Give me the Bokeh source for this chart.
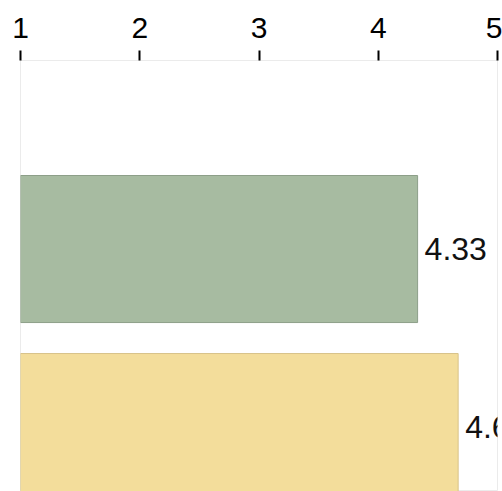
from bokeh.plotting import figure
from bokeh.models import ColumnDataSource, Range1d, LabelSet, FixedTicker
from bokeh.core.properties import value
from bokeh.embed import file_html
from bokeh.resources import INLINE

categories = ["Item 1", "Item 2"]
values = [4.33, 4.67]
bar_colors = ["#a7bba1", "#f3dd9b"]
bar_edges = ["#8d9f89", "#d8c38a"]
x_ticks = [1, 2, 3, 4, 5]

pos = list(range(len(categories)))
src = ColumnDataSource(dict(
    y=pos,
    value=values,
    label=["%.2f" % v for v in values],
    fill=bar_colors,
    edge=bar_edges,
))

p = figure(width=502, height=491, output_backend="svg", toolbar_location=None,
           x_range=Range1d(1, 5), y_range=Range1d(1.362, -1.059),
           x_axis_location="above", y_axis_location=None,
           min_border_left=20, min_border_right=5, min_border_top=60,
           min_border_bottom=0)

p.hbar(y="y", left=1, right="value", height=0.826, fill_color="fill",
       line_color="edge", line_width=1, source=src)

labels = LabelSet(x="value", y="y", text="label", source=src, x_offset=7,
                  text_baseline="middle", text_align="left",
                  text_font=value("Liberation Sans"), text_font_size="32px",
                  text_color="#111111")
p.add_layout(labels)

ax = p.xaxis[0]
ax.ticker = FixedTicker(ticks=x_ticks)
ax.axis_line_color = None
ax.major_tick_in = 0
ax.major_tick_out = 10
ax.major_tick_line_width = 2
ax.major_tick_line_color = "#000000"
ax.minor_tick_line_color = None
ax.major_label_standoff = 13
ax.major_label_text_font = "Liberation Sans"
ax.major_label_text_font_size = "30px"
ax.major_label_text_color = "#000000"

p.xgrid.grid_line_color = None
p.ygrid.grid_line_color = None
p.outline_line_color = "#ebebeb"
p.outline_line_width = 1
p.background_fill_color = "white"
p.border_fill_color = "white"

open("out.html", "w").write(file_html(p, INLINE))
